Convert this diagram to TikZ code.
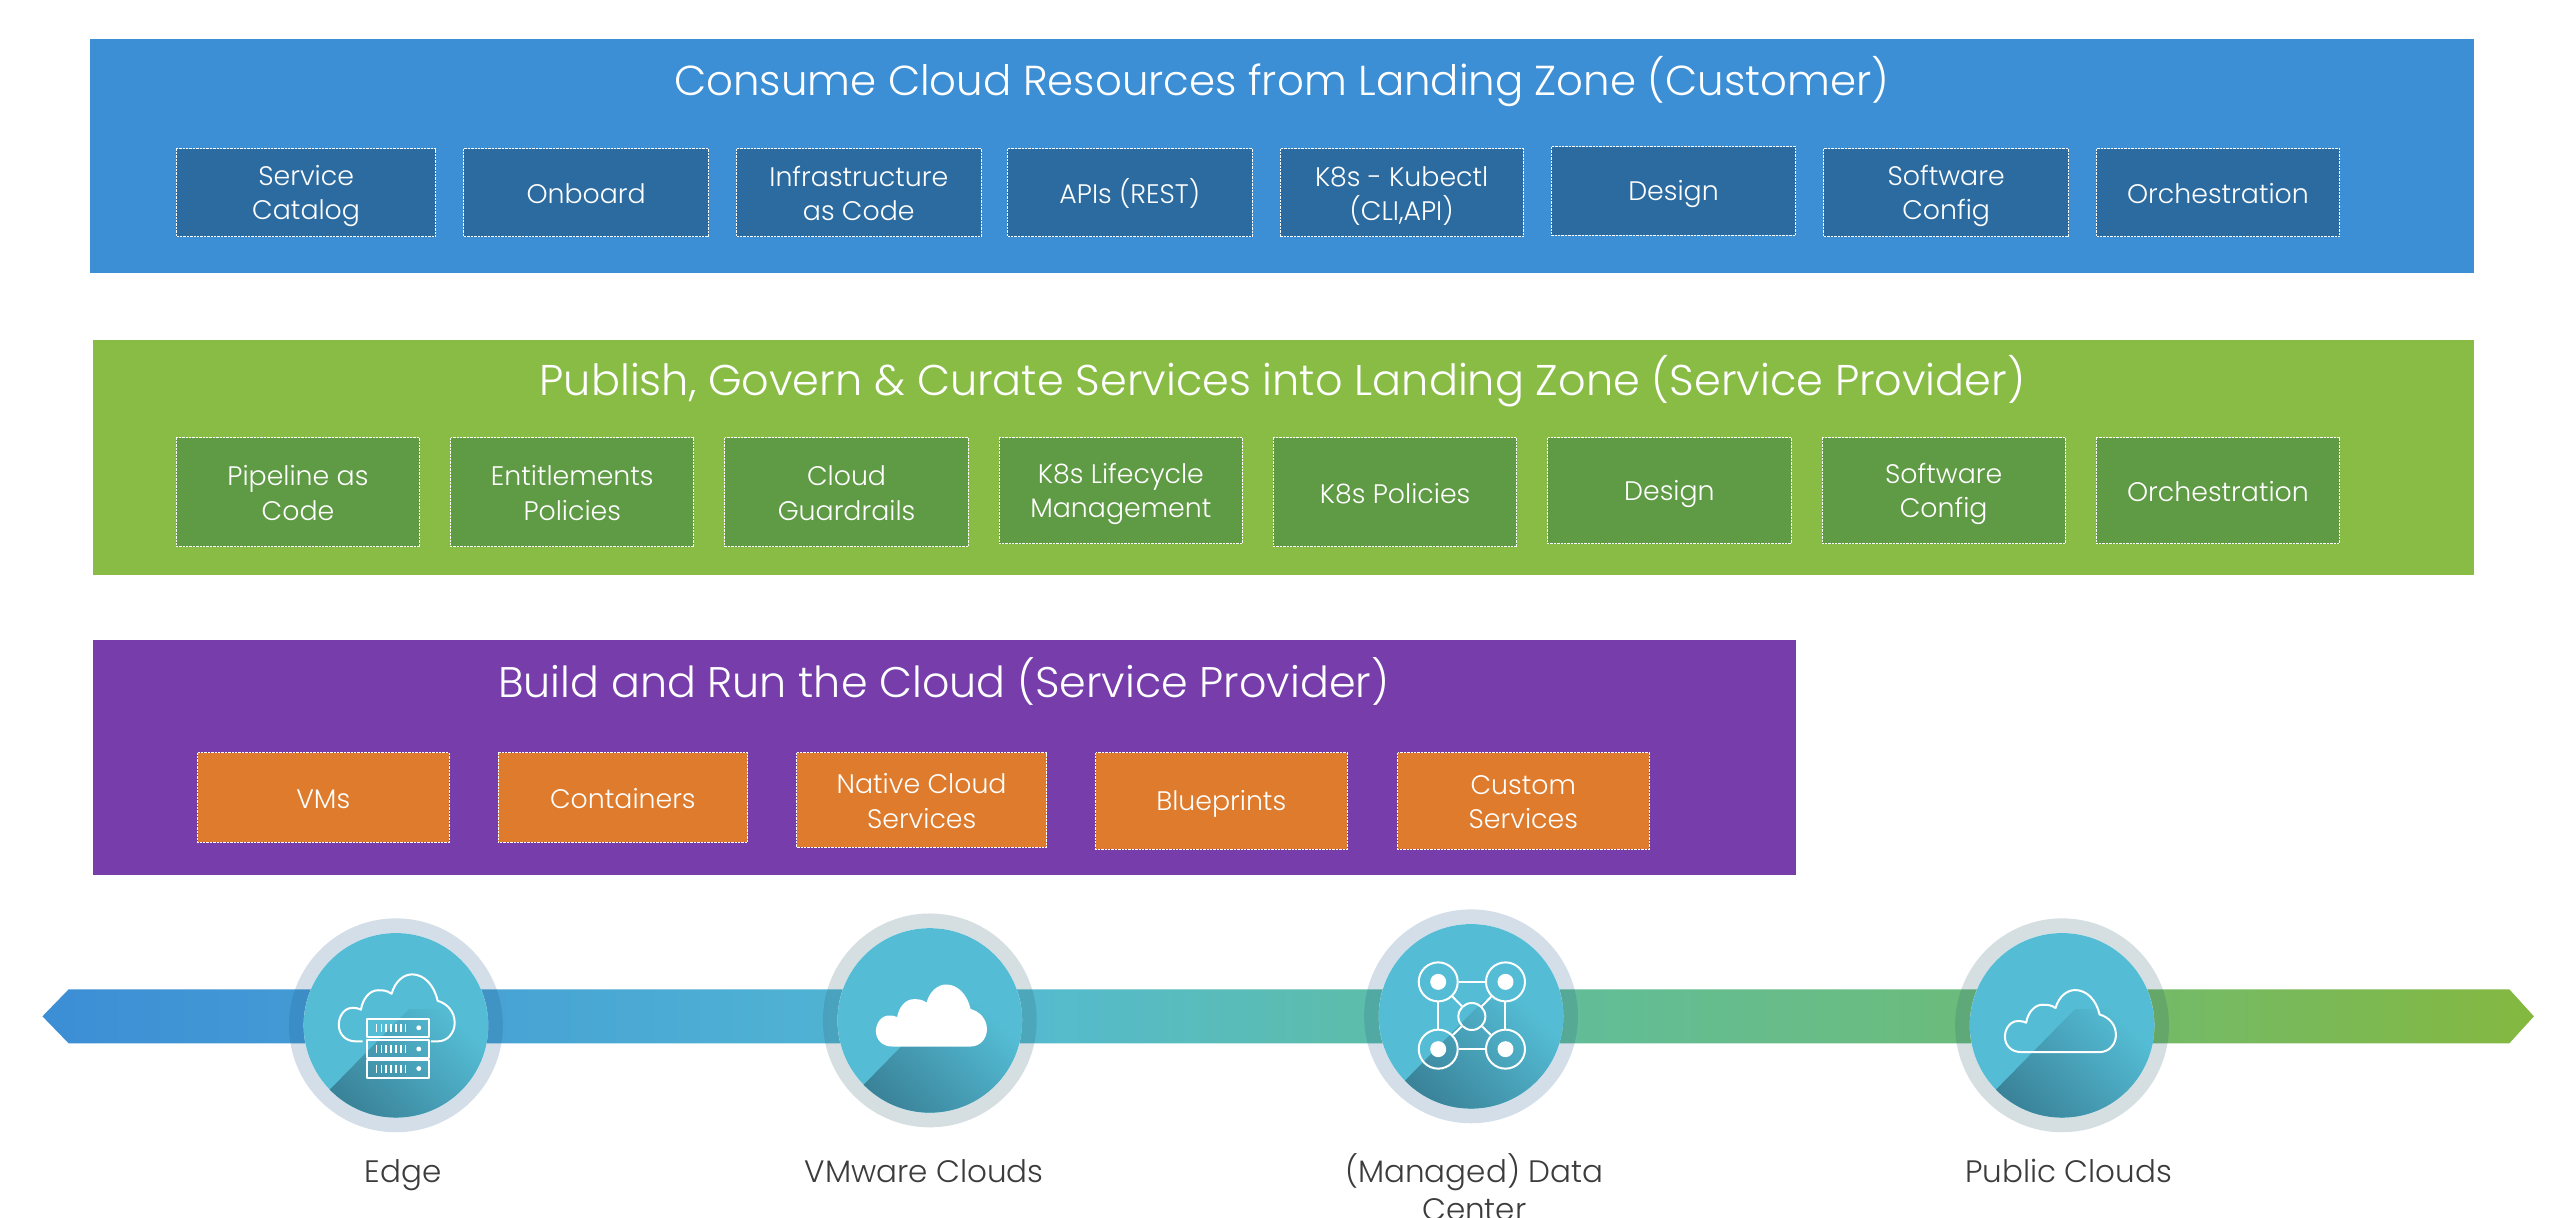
\documentclass[tikz,border=0pt]{standalone}
\usepackage{fontspec}
\setmainfont{Poppins Light}
\usetikzlibrary{calc}
\definecolor{cBlue}{HTML}{3C8ED5}
\definecolor{cBlueBox}{HTML}{2C6BA0}
\definecolor{cGreen}{HTML}{88BC44}
\definecolor{cGreenBox}{HTML}{5F9A45}
\definecolor{cPurple}{HTML}{763DAB}
\definecolor{cOrange}{HTML}{DE7B2C}
\definecolor{cInner}{HTML}{54BDD5}
\definecolor{cDark}{HTML}{377C92}
\definecolor{cRing}{RGB}{35,90,140}
\definecolor{cRingB}{RGB}{45,95,110}
\definecolor{cLabel}{HTML}{3C3C3C}
\definecolor{cGradA}{HTML}{54BAD3}
\definecolor{cGradB}{HTML}{5FBEA0}
\definecolor{cGradC}{HTML}{6CBB7A}
\definecolor{cGradD}{HTML}{84B840}
\pgfdeclarehorizontalshading{arrowgrad}{100bp}{
  color(0bp)=(cBlue);
  color(25bp)=(cBlue);
  color(44bp)=(cGradA);
  color(53.5bp)=(cGradB);
  color(64bp)=(cGradC);
  color(75bp)=(cGradD);
  color(100bp)=(cGradD)}
\tikzset{
  x=0.81633pt, y=-0.81633pt,
  titletext/.style={text=white,inner sep=0pt},
  boxtext/.style={text=white,font=\fontsize{13.4}{17.2}\selectfont,align=center,inner sep=0pt},
  labeltext/.style={text=cLabel,font=\fontsize{15.5}{18.8}\selectfont,align=center,inner sep=0pt,anchor=north},
  boxline/.style={draw=white,line width=0.45pt,dash pattern=on 1.2pt off 0.5pt},
  bluebox/.style={boxline,fill=cBlueBox},
  greenbox/.style={boxline,fill=cGreenBox},
  orangebox/.style={boxline,fill=cOrange},
  iconline/.style={draw=white,line width=1pt,line join=round},
}
\newcommand\cardbox[7]{% style,name,x1,y1,x2,y2,text
  \path[#1] (#3,#4) rectangle (#5,#6);
  \node[boxtext] (#2) at ({(#3+#5)/2},{(#4+#6)/2+0.5}) {\vphantom{(}#7\vphantom{(}};}
\newcommand\cloudclosed{(10,38) -- (58,38) .. controls (64,38) and (68,33) .. (68,27.5) .. controls (68,21) and (63.5,16.5) .. (58,15) .. controls (56,6) and (50,0) .. (43,0) .. controls (38,0) and (33,4) .. (31,11) .. controls (28,9) and (26,9) .. (23,9) .. controls (18,9) and (14,14) .. (13,20) .. controls (11,19) and (9,19) .. (8,19) .. controls (3,19) and (0,24) .. (0,28.5) .. controls (0,34) and (4,38) .. (10,38) -- cycle}
\newcommand\disc[6]{% name, cx, cy, ring cx, ring cy, ring colour
  \fill[#6,opacity=0.2] (#4,#5) circle[radius=65.5];
  \fill[white] (#2,#3) circle[radius=56.5];
  \begin{scope}
    \clip (#2,#3) circle[radius=56.5];
    \fill[cInner] (#2,#3) circle[radius=57];
    \shade[bottom color=cDark,top color=cInner,shading angle=-45]
      ($(#2,#3)+(-45,44)$) -- ($(#2,#3)+(8,-10)$) -- ($(#2,#3)+(60,-10)$) -- ($(#2,#3)+(60,60)$) -- ($(#2,#3)+(-60,60)$) -- cycle;
  \end{scope}
  \coordinate (#1) at (#2,#3);}
\newcommand\rack[1]{% y top
  \draw[iconline] (-18,#1) rectangle (20,#1+11);
  \foreach \t in {0,1,...,6} \draw[white,line width=0.7pt] (-12+\t*3,#1+3) -- (-12+\t*3,#1+8);
  \fill[white] (14,#1+5.5) circle[radius=1.5];}
\begin{document}
\begin{tikzpicture}
\useasboundingbox (0,0) rectangle (1568,745.43);
\fill[white] (0,0) rectangle (1568,745.43);
% panels
\fill[cBlue] (55,24) rectangle (1515,167);
\fill[cGreen] (57,208) rectangle (1515,352);
\fill[cPurple] (57,392) rectangle (1100,536);
\node[titletext,font=\fontsize{20.95}{24}\selectfont] (t1) at (785,50) {Consume Cloud Resources from Landing Zone (Customer)};
\node[titletext,font=\fontsize{21.5}{24}\selectfont] (t2) at (785.5,233.5) {Publish, Govern \& Curate Services into Landing Zone (Service Provider)};
\node[titletext,font=\fontsize{21.4}{24}\selectfont] (t3) at (578,417.5) {Build and Run the Cloud (Service Provider)};
% row 1
\cardbox{bluebox}{a1}{108}{91}{267}{145}{Service\\Catalog}
\cardbox{bluebox}{a2}{284}{91}{434}{145}{Onboard}
\cardbox{bluebox}{a3}{451}{91}{601}{145}{Infrastructure\\as Code}
\cardbox{bluebox}{a4}{617}{91}{767}{145}{APIs (REST)}
\cardbox{bluebox}{a5}{784}{91}{933}{145}{K8s - Kubectl\\(CLI,API)}
\cardbox{bluebox}{a6}{950}{90}{1100}{144}{Design}
\cardbox{bluebox}{a7}{1117}{91}{1267}{145}{Software\\Config}
\cardbox{bluebox}{a8}{1284}{91}{1433}{145}{Orchestration}
% row 2
\cardbox{greenbox}{b1}{108}{268}{257}{335}{Pipeline as\\Code}
\cardbox{greenbox}{b2}{276}{268}{425}{335}{Entitlements\\Policies}
\cardbox{greenbox}{b3}{444}{268}{593}{335}{Cloud\\Guardrails}
\cardbox{greenbox}{b4}{612}{268}{761}{333}{K8s Lifecycle\\Management}
\cardbox{greenbox}{b5}{780}{268}{929}{335}{K8s Policies}
\cardbox{greenbox}{b6}{948}{268}{1097}{333}{Design}
\cardbox{greenbox}{b7}{1116}{268}{1265}{333}{Software\\Config}
\cardbox{greenbox}{b8}{1284}{268}{1433}{333}{Orchestration}
% row 3
\cardbox{orangebox}{c1}{121}{461}{275}{516}{VMs}
\cardbox{orangebox}{c2}{305}{461}{458}{516}{Containers}
\cardbox{orangebox}{c3}{488}{461}{641}{519}{Native Cloud\\Services}
\cardbox{orangebox}{c4}{671}{461}{825}{520}{Blueprints}
\cardbox{orangebox}{c5}{856}{461}{1010}{520}{Custom\\Services}
% arrow
\shade[shading=arrowgrad] (26,622.5) -- (42,606) -- (1537,606) -- (1552,622.5) -- (1537,639) -- (42,639) -- cycle;
% discs
\disc{d1}{242.5}{628}{242.5}{628}{cRing}
\disc{d2}{569.5}{625}{569.5}{625}{cRingB}
\disc{d3}{901}{622.5}{901}{622.5}{cRing}
\disc{d4}{1263}{628}{1263}{628}{cRingB}
% edge icon
\begin{scope}[shift={(207.5,596.8)},xscale=1.044,yscale=1.08]
\draw[iconline] (14,38) -- (10,38) .. controls (4,38) and (0,34) .. (0,28.5) .. controls (0,24) and (3,19) .. (8,19) .. controls (9,19) and (11,19) .. (13,20) .. controls (14,14) and (18,9) .. (23,9) .. controls (26,9) and (28,9) .. (31,11) .. controls (33,4) and (38,0) .. (43,0) .. controls (50,0) and (56,6) .. (58,15) .. controls (63.5,16.5) and (68,21) .. (68,27.5) .. controls (68,33) and (64,38) .. (58,38) -- (54,38);
\end{scope}
\begin{scope}[shift={(242.5,628)}]
\rack{-4}\rack{9}\rack{21}
\end{scope}
% vmware icon
\begin{scope}[shift={(536.5,603)}]
\fill[white] \cloudclosed;
\end{scope}
% data centre icon
\begin{scope}[shift={(901.5,622)}]
\node[circle,iconline,minimum size=19.5pt,inner sep=0pt] (n1) at (-20.6,-20.6) {};
\node[circle,iconline,minimum size=19.5pt,inner sep=0pt] (n2) at (20.6,-20.6) {};
\node[circle,iconline,minimum size=19.5pt,inner sep=0pt] (n3) at (-20.6,20.6) {};
\node[circle,iconline,minimum size=19.5pt,inner sep=0pt] (n4) at (20.6,20.6) {};
\node[circle,iconline,minimum size=13.5pt,inner sep=0pt] (n0) at (0,0.6) {};
\foreach \c in {n1,n2,n3,n4} \fill[white] (\c) circle[radius=4.9];
\draw[iconline] (n1) -- (n2);
\draw[iconline] (n3) -- (n4);
\draw[iconline] (n1) -- (n3);
\draw[iconline] (n2) -- (n4);
\draw[iconline] (n0) -- (n1);
\draw[iconline] (n0) -- (n2);
\draw[iconline] (n0) -- (n3);
\draw[iconline] (n0) -- (n4);
\end{scope}
% public icon
\begin{scope}[shift={(1228,606.4)}]
\draw[iconline] \cloudclosed;
\end{scope}
% labels
\node[labeltext] (l1) at (247,706.5) {\vphantom{(}Edge};
\node[labeltext] (l2) at (566,706.5) {\vphantom{(}VMware Clouds};
\node[labeltext] (l3) at (903,706.5) {\vphantom{(}(Managed) Data\\Center};
\node[labeltext] (l4) at (1267,706.5) {\vphantom{(}Public Clouds};
\end{tikzpicture}
\end{document}
